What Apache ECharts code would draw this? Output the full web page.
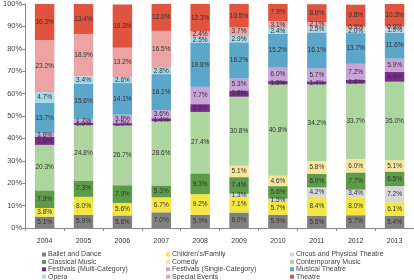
<!DOCTYPE html>
<html><head><meta charset="utf-8">
<script src="https://cdn.jsdelivr.net/npm/echarts@6/dist/echarts.min.js"></script>
<style>html,body{margin:0;padding:0;background:#fff}#c{width:414px;height:280px}</style>
</head><body><div id="c"></div>
<script>
const years = ['2004','2005','2006','2007','2008','2009','2010','2011','2012','2013'];
const seriesNames = ['Ballet and Dance',"Children's/Family",'Circus and Physical Theatre','Classical Music','Comedy','Contemporary Music','Festivals (Multi-Category)','Festivals (Single-Category)','Musical Theatre','Opera','Special Events','Theatre'];
const ballet       = [5.1,5.9,5.6,7.0,5.9,6.9,5.9,5.5,5.7,5.4];
const children     = [3.8,8.0,5.6,6.7,9.2,7.1,5.7,8.4,8.0,6.1];
const circus       = [null,null,null,null,null,1.3,1.5,4.2,3.4,7.2];
const classical    = [7.9,7.3,7.9,5.3,9.3,7.4,5.6,6.0,7.7,6.5];
const comedy       = [null,null,null,null,null,5.1,4.6,5.8,6.0,5.1];
const contemporary = [20.3,24.8,26.7,28.6,27.4,30.8,40.8,34.2,33.7,35.0];
const festMulti    = [3.6,1.0,1.0,1.4,3.5,2.8,1.5,1.4,1.6,4.4];
const festSingle   = [1.6,1.7,3.8,3.6,7.7,5.3,6.0,5.7,7.2,5.9];
const musical      = [13.7,15.6,14.1,16.1,19.8,16.2,15.2,16.1,13.7,11.6];
const opera        = [4.7,3.4,2.6,2.8,2.5,2.9,2.4,2.5,2.0,1.9];
const special      = [23.2,18.9,13.2,16.5,2.4,3.7,3.1,2.1,0.9,0.9];
const theatre      = [16.3,13.4,19.3,12.0,12.3,10.5,7.9,8.0,9.8,10.3];
const yTicks = [0,10,20,30,40,50,60,70,80,90,100];

const allData = [ballet,children,circus,classical,comedy,contemporary,festMulti,festSingle,musical,opera,special,theatre];
const colors = ['#808080','#f4e640','#d6d6d6','#5c9c48','#f6e59a','#acd69e','#7b2d8c','#c7a3d8','#5ba6c9','#a6dae7','#eba3a3','#e0533f'];

const series = seriesNames.map((n,i)=>({
  name:n, type:'bar', stack:'all', barWidth:'50%',
  data: allData[i],
  itemStyle:{color:colors[i]},
  label:{show:true, position:'inside', fontSize:6.5, color:'#333', fontFamily:'Liberation Sans, Arial',
    formatter:p=> p.value==null? '' : p.value.toFixed(1)+'%'}
}));

function legendCol(names,left){
  return {data:names, orient:'vertical', left:left, top:251, width:130, height:40, itemWidth:4, itemHeight:4, itemGap:0.4,
    icon:'rect', padding:0,
    textStyle:{fontSize:7, lineHeight:7, color:'#444', fontFamily:'Liberation Sans, Arial', padding:[0,0,0,-3]}};
}

const chart = echarts.init(document.getElementById('c'),null,{renderer:'canvas'});
chart.setOption({
  animation:false,
  grid:{left:15, right:-4, top:4, bottom:52},
  legend:[
    legendCol([seriesNames[0],seriesNames[3],seriesNames[6],seriesNames[9]],42),
    legendCol([seriesNames[1],seriesNames[4],seriesNames[7],seriesNames[10]],166),
    legendCol([seriesNames[2],seriesNames[5],seriesNames[8],seriesNames[11]],290)
  ],
  xAxis:{type:'category', data:years,
    axisLine:{lineStyle:{color:'#888'}}, axisTick:{show:true, lineStyle:{color:'#888'}, length:3},
    axisLabel:{fontSize:7, color:'#333', margin:10, fontFamily:'Liberation Sans, Arial'}},
  yAxis:{type:'value', min:0, max:100, interval:10,
    axisLine:{show:true, lineStyle:{color:'#888'}}, axisTick:{show:true, length:3, lineStyle:{color:'#888'}},
    splitLine:{show:false},
    axisLabel:{fontSize:7.5, color:'#444', margin:3, fontFamily:'Liberation Sans, Arial',
      formatter:v=> yTicks.includes(v)? v+'%' : ''}},
  series: series
});
</script></body></html>
